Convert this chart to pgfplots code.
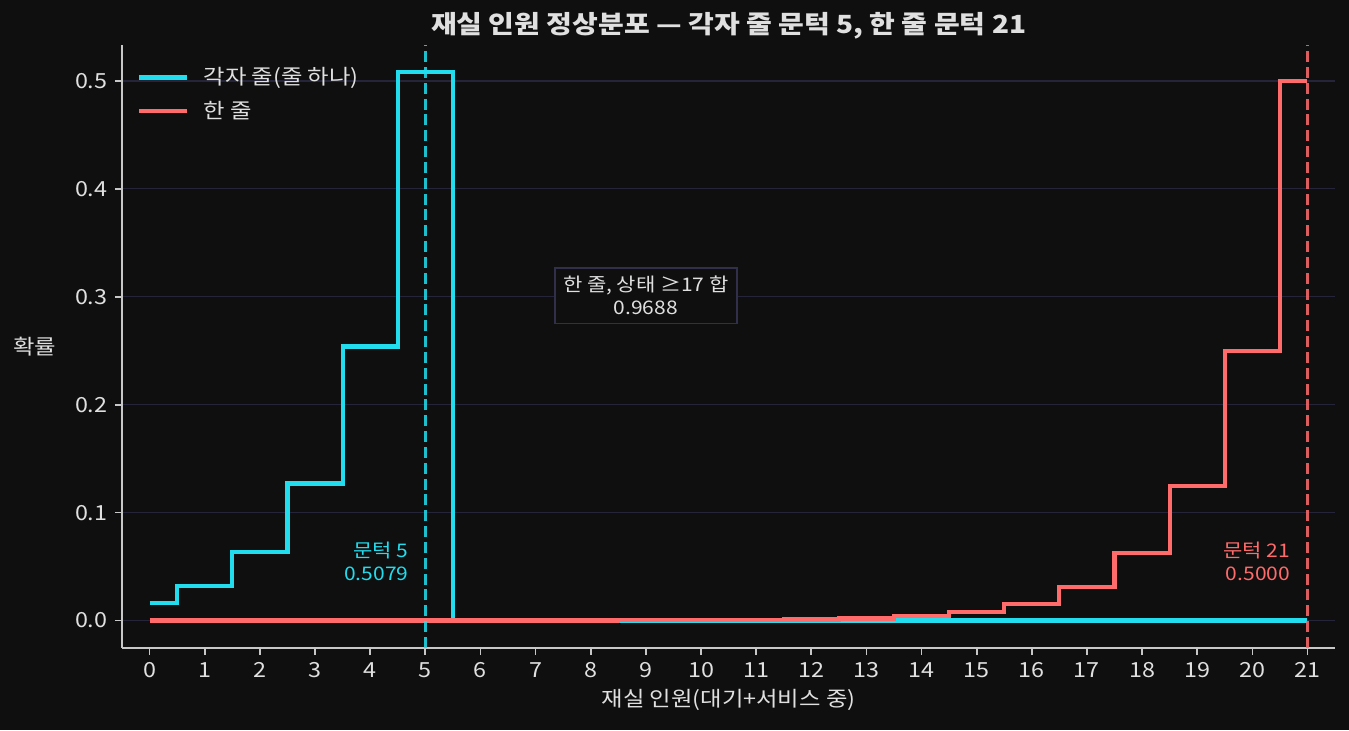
\documentclass[border=0pt]{standalone}
\usepackage{pgfplots}
\pgfplotsset{compat=1.18}
\usepackage{fontspec}
\setmainfont{Noto Sans CJK KR}[FakeStretch=1.12]

\definecolor{bgcol}{HTML}{0F0F0F}
\definecolor{txtcol}{HTML}{E0E0E0}
\definecolor{spinecol}{HTML}{C8C8C8}
\definecolor{gridcol}{HTML}{24243A}
\definecolor{boxcol}{HTML}{30304A}
\definecolor{cyanline}{HTML}{22DDEE}
\definecolor{redline}{HTML}{FF6B6B}

\begin{document}
\begin{tikzpicture}
% page: 1349x730 px at 0.48pt per px
\path[use as bounding box, fill=bgcol] (-58.6pt,-39.4pt) rectangle (588.9pt,311pt);
\begin{axis}[
    scale only axis,
    width=582.2pt, height=289.4pt,
    xmin=-0.5, xmax=21.5,
    ymin=-0.0254, ymax=0.5333,
    axis x line*=bottom, axis y line*=left,
    axis line style={-, draw=spinecol, line width=0.8pt},
    tick align=outside,
    major tick length=3.5pt,
    tick style={draw=spinecol, line width=0.8pt},
    xtick={0,1,...,21},
    ytick={0,0.1,0.2,0.3,0.4,0.5},
    ymajorgrids,
    grid style={draw=gridcol, line width=0.6pt},
    ticklabel style={font=\fontsize{10}{12}\selectfont, text=txtcol},
    /pgf/number format/assume math mode=true,
    y tick label style={
        /pgf/number format/.cd,
            fixed, fixed zerofill, precision=1,
        /tikz/.cd
    },
    title={\bfseries 재실 인원 정상분포 — 각자 줄 문턱 5, 한 줄 문턱 21},
    title style={at={(0.5,1)}, anchor=base, yshift=-0.4pt,
        font=\fontsize{12}{14}\selectfont, text=txtcol},
    xlabel={재실 인원(대기+서비스 중)},
    xlabel style={at={(0.5,0)}, anchor=base, yshift=-28.3pt,
        font=\fontsize{10}{12}\selectfont, text=txtcol},
    ylabel={확률},
    ylabel style={rotate=-90, at={(0,0.5)}, anchor=center, xshift=-41.8pt,
        font=\fontsize{10}{12}\selectfont, text=txtcol},
    legend style={at={(0,1)}, anchor=north west, xshift=7pt, yshift=-8.5pt,
        draw=none, fill=none, text=txtcol,
        font=\fontsize{10}{12}\selectfont,
        row sep=2.5pt, column sep=5pt, inner sep=0pt},
    legend cell align=left,
    legend image code/.code={\draw[#1] (0pt,0pt) -- (23pt,0pt);},
]
% 각자 줄 (줄 하나)
\addplot [const plot mark mid, color=cyanline, line width=2pt]
coordinates {
    (0,0.01587)(1,0.03175)(2,0.06349)(3,0.12698)(4,0.25397)(5,0.50794)
    (6,0)(7,0)(8,0)(9,0)(10,0)(11,0)(12,0)(13,0)(14,0)(15,0)(16,0)
    (17,0)(18,0)(19,0)(20,0)(21,0)};
\addlegendentry{각자 줄(줄 하나)}
% 한 줄
\addplot [const plot mark mid, color=redline, line width=2pt]
coordinates {
    (0,0.0000002)(1,0.0000005)(2,0.000001)(3,0.000002)(4,0.000004)
    (5,0.000008)(6,0.000015)(7,0.000031)(8,0.000061)(9,0.000122)
    (10,0.000244)(11,0.000488)(12,0.000977)(13,0.001953)(14,0.003906)
    (15,0.007813)(16,0.015625)(17,0.03125)(18,0.0625)(19,0.125)
    (20,0.25)(21,0.5)};
\addlegendentry{한 줄}
% thresholds
\addplot [forget plot, color=cyanline, opacity=0.85, line width=1.4pt,
    dash pattern=on 5.3pt off 2.3pt]
coordinates {(5,-0.0254)(5,0.5333)};
\addplot [forget plot, color=redline, opacity=0.85, line width=1.4pt,
    dash pattern=on 5.3pt off 2.3pt]
coordinates {(21,-0.0254)(21,0.5333)};

\node[anchor=east, align=right, text=cyanline, inner sep=0pt,
    font=\fontsize{9}{11}\selectfont] at (axis cs:4.7,0.055) {문턱 5\\0.5079};
\node[anchor=east, align=right, text=redline, inner sep=0pt,
    font=\fontsize{9}{11}\selectfont] at (axis cs:20.69,0.055) {문턱 21\\0.5000};
\node[align=center, text=txtcol, fill=bgcol, draw=boxcol, line width=0.8pt,
    inner xsep=4pt, inner ysep=4pt,
    font=\fontsize{9}{11}\selectfont] at (axis cs:9,0.301) {한 줄, 상태 ≥17 합\\0.9688};
\end{axis}
\end{tikzpicture}
\end{document}
